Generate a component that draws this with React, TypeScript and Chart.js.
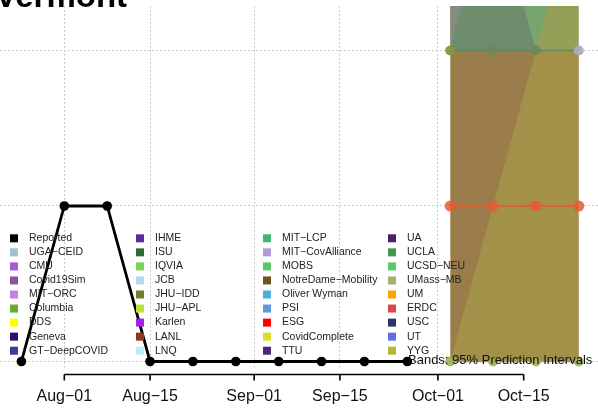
import React, { useEffect, useRef } from 'react';
import { Chart, registerables } from 'chart.js';

Chart.register(...registerables);

// ---------- data ----------
const stateTitle = 'Vermont';
const bandsNote = 'Bands: 95% Prediction Intervals';

const reportedDates = ['2020-07-25', '2020-08-01', '2020-08-08', '2020-08-15', '2020-08-22', '2020-08-29', '2020-09-05', '2020-09-12', '2020-09-19', '2020-09-26'];
const reportedValues = [0, 1, 1, 0, 0, 0, 0, 0, 0, 0];

const forecastDates = ['2020-10-03', '2020-10-10', '2020-10-17', '2020-10-24'];
const umLower = [0, 0, 0, 0];
const umUpper = [2, 2, 2, 2];
const mobsLower = [2, 2, 2, 2];
const mobsUpper = [3, 3, 3, 3];
const uclaLower = [2, 2, 2, 2];
const uclaUpper = [3, 3, 2, 2];
const yygLower = [0, 0, 0, 0];
const yygUpper = [0, 1, 2, 3];
const umassLower = [2, 3.1, 3.5, 3.5];
const umassUpper = [4, 4, 4, 4];
const yygMedian = [0, 0, 0, 0];
const mitlcpMedian = [2, 2, 2, 2];
const erdcMedian = [1, 1, 1, 1];

const tickDates = ['2020-08-01', '2020-08-15', '2020-09-01', '2020-09-15', '2020-10-01', '2020-10-15'];
const tickLabels = ['Aug\u221201', 'Aug\u221215', 'Sep\u221201', 'Sep\u221215', 'Oct\u221201', 'Oct\u221215'];
const yGridValues = [0, 1, 2];

const legendNames = [
  'Reported', 'UGA\u2212CEID', 'CMU', 'Covid19Sim', 'MIT\u2212ORC', 'Columbia', 'DDS', 'Geneva', 'GT\u2212DeepCOVID',
  'IHME', 'ISU', 'IQVIA', 'JCB', 'JHU\u2212IDD', 'JHU\u2212APL', 'Karlen', 'LANL', 'LNQ',
  'MIT\u2212LCP', 'MIT\u2212CovAlliance', 'MOBS', 'NotreDame\u2212Mobility', 'Oliver Wyman', 'PSI', 'ESG', 'CovidComplete', 'TTU',
  'UA', 'UCLA', 'UCSD\u2212NEU', 'UMass\u2212MB', 'UM', 'ERDC', 'USC', 'UT', 'YYG',
];
const legendColors = [
  '#000000', '#9cc3d0', '#a65ad0', '#8a55a0', '#c083e0', '#6aaa2a', '#ffff00', '#2a1060', '#3a3f98',
  '#5a2a9a', '#2e6a36', '#7ad05a', '#b0dcec', '#6e7e2a', '#c0e030', '#a020f0', '#8b3a1e', '#c0ecf8',
  '#3cb878', '#ae9adc', '#5ac86a', '#6b5520', '#4ab0d8', '#6496e0', '#ff0000', '#dcdc20', '#4a2878',
  '#4a2068', '#44984a', '#5aca6a', '#a0b070', '#ffa500', '#d84848', '#2e3468', '#6070e0', '#b8b838',
];

// ---------- helpers ----------
const BASE = Date.UTC(2020, 7, 1);
const dayOf = (s: string) => {
  const [y, m, d] = s.split('-').map(Number);
  return (Date.UTC(y, m - 1, d) - BASE) / 86400000;
};
const pts = (dates: string[], vals: number[]) => dates.map((d, i) => ({ x: dayOf(d), y: vals[i] }));

const X_MIN = -10.498;
const X_MAX = 87.135;
const Y_MIN = -0.0547;
const Y_MAX = 2.2862;
const FONT = '"Liberation Sans", Arial, Helvetica, sans-serif';

const band = (lower: number[], upper: number[], color: string, order: number) => [
  { data: pts(forecastDates, lower), borderWidth: 0, borderColor: 'transparent', pointRadius: 0, fill: false, order },
  { data: pts(forecastDates, upper), borderWidth: 0, borderColor: 'transparent', pointRadius: 0, fill: '-1', backgroundColor: color, order },
];

const overlayPlugin = {
  id: 'overlay',
  afterDraw(chart: any) {
    const ctx = chart.ctx;
    const xs = chart.scales.x;
    const area = chart.chartArea;
    ctx.save();
    // base-R style axis
    const axisY = area.bottom + 4.5;
    const xa = xs.getPixelForValue(dayOf(tickDates[0]));
    const xb = xs.getPixelForValue(dayOf(tickDates[tickDates.length - 1]));
    ctx.strokeStyle = '#000';
    ctx.lineWidth = 1.6;
    ctx.beginPath();
    ctx.moveTo(xa, axisY);
    ctx.lineTo(xb, axisY);
    tickDates.forEach((d) => {
      const px = xs.getPixelForValue(dayOf(d));
      ctx.moveTo(px, axisY);
      ctx.lineTo(px, axisY + 6);
    });
    ctx.stroke();

    // title (cropped at top)
    ctx.fillStyle = '#000';
    ctx.textAlign = 'left';
    ctx.textBaseline = 'alphabetic';
    ctx.font = `bold 33px ${FONT}`;
    ctx.fillText(stateTitle, -5, 7);

    // legend
    ctx.font = `10.5px ${FONT}`;
    ctx.textBaseline = 'middle';
    const colX = [10, 136, 263, 388];
    legendNames.forEach((name, i) => {
      const c = Math.floor(i / 9);
      const r = i % 9;
      const cy = 238.3 + r * 14.05;
      ctx.fillStyle = legendColors[i];
      ctx.fillRect(colX[c], cy - 4, 8, 8);
      ctx.fillStyle = '#222';
      ctx.fillText(name, colX[c] + 19, cy);
    });

    // bands note
    ctx.font = `13px ${FONT}`;
    ctx.textBaseline = 'alphabetic';
    ctx.fillStyle = '#111';
    ctx.fillText(bandsNote, 408, 364);
    ctx.restore();
  },
};

export default function App() {
  const ref = useRef<HTMLCanvasElement>(null);
  useEffect(() => {
    if (!ref.current) return;
    const datasets: any[] = [
      ...band(umLower, umUpper, 'rgba(144,111,55,0.9)', 60),
      ...band(mobsLower, mobsUpper, 'rgba(62,125,51,0.7)', 50),
      ...band(uclaLower, uclaUpper, 'rgba(100,116,108,0.5)', 40),
      ...band(yygLower, yygUpper, 'rgba(168,158,73,0.6)', 30),
      ...band(umassLower, umassUpper, 'rgba(157,137,140,0.6)', 20),
      {
        data: pts(forecastDates, yygMedian), borderColor: 'rgba(150,160,100,0.9)', borderWidth: 1.5,
        pointRadius: 5, pointBackgroundColor: 'rgba(160,176,80,0.9)', pointBorderWidth: 0, fill: false, order: 4,
      },
      {
        data: pts(forecastDates, mitlcpMedian), borderColor: 'rgba(80,130,90,0.7)', borderWidth: 1.5,
        pointRadius: 5, pointBackgroundColor: ['rgba(130,152,70,0.95)', 'rgba(105,135,95,0.8)', 'rgba(105,135,95,0.8)', 'rgba(172,172,190,0.95)'],
        pointBorderWidth: 0, fill: false, order: 3,
      },
      {
        data: pts(forecastDates, erdcMedian), borderColor: 'rgba(228,92,52,0.9)', borderWidth: 2,
        pointRadius: 5.5, pointBackgroundColor: 'rgba(230,90,50,0.85)', pointBorderWidth: 0, fill: false, order: 2,
      },
      {
        data: pts(reportedDates, reportedValues), borderColor: '#000', borderWidth: 2.8,
        pointRadius: 4.8, pointBackgroundColor: '#000', pointBorderWidth: 0, fill: false, order: 0,
      },
    ];
    datasets.forEach((d) => { d.tension = 0; });

    const gridColor = '#bdbdbd';
    const chart = new Chart(ref.current, {
      type: 'line',
      data: { datasets },
      options: {
        animation: false,
        responsive: false,
        devicePixelRatio: 1,
        layout: { autoPadding: false, padding: { top: 6, left: 0, right: 0, bottom: 0 } },
        plugins: { legend: { display: false }, tooltip: { enabled: false }, title: { display: false } },
        scales: {
          x: {
            type: 'linear',
            min: X_MIN,
            max: X_MAX,
            afterBuildTicks: (s: any) => { s.ticks = tickDates.map((d) => ({ value: dayOf(d) })); },
            afterFit: (s: any) => { s.height = 39; },
            grid: { color: gridColor, lineWidth: 1, drawTicks: false },
            border: { display: false, dash: [1.5, 2.5] },
            ticks: {
              autoSkip: false,
              maxRotation: 0,
              padding: 17,
              color: '#111',
              font: { size: 16, family: FONT },
              callback: (v: any) => {
                const i = tickDates.findIndex((d) => dayOf(d) === v);
                return i >= 0 ? tickLabels[i] : '';
              },
            },
          },
          y: {
            type: 'linear',
            min: Y_MIN,
            max: Y_MAX,
            afterBuildTicks: (s: any) => { s.ticks = yGridValues.map((v) => ({ value: v })); },
            afterFit: (s: any) => { s.width = 0; },
            grid: { color: gridColor, lineWidth: 1, drawTicks: false },
            border: { display: false, dash: [1.5, 2.5] },
            ticks: { display: false },
          },
        },
      },
      plugins: [overlayPlugin],
    } as any);
    return () => chart.destroy();
  }, []);

  return (
    <div style={{ position: 'fixed', left: 0, top: 0, width: 598, height: 409, background: '#fff' }}>
      <canvas ref={ref} width={598} height={409} style={{ display: 'block', width: 598, height: 409 }} />
    </div>
  );
}
